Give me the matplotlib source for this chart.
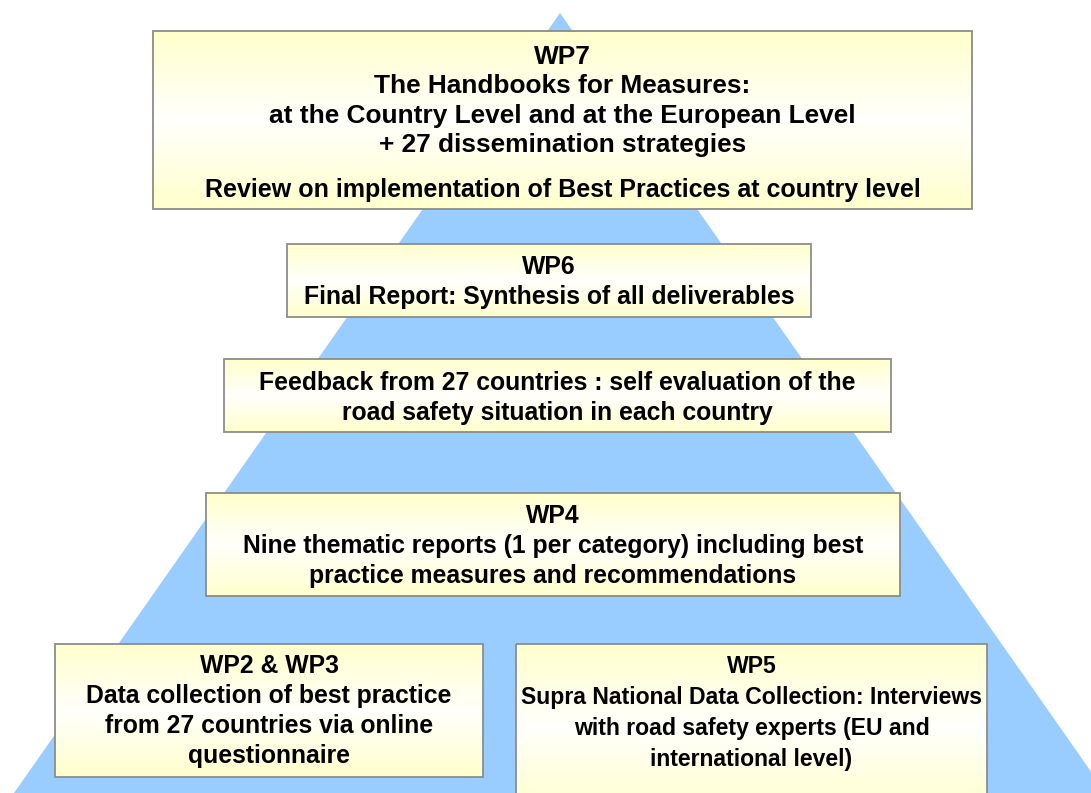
import numpy as np
import matplotlib.pyplot as plt
from matplotlib.patches import Polygon, Rectangle

plt.rcParams['font.family'] = ['Liberation Sans', 'DejaVu Sans']

# canvas in pixels
W, H = 1091, 793

# pyramid: apex and half-slope (x per y)
apex = (560, 13)
slope = 0.70

# boxes: left, top, right, bottom (pixels)
box_names = ['WP7', 'WP6', 'FB', 'WP4', 'WP23', 'WP5']
box_left = [153, 287, 224, 206, 55, 516]
box_top = [31, 244, 359, 493, 644, 644]
box_right = [972, 811, 891, 900, 483, 987]
box_bottom = [209, 317, 432, 596, 777, 810]

# text blocks: box index, centre y, font size, line spacing, text
text_box = [0, 0, 1, 2, 3, 4, 5]
text_y = [101, 190, 282, 398, 546, 711, 713]
text_size = [18.9, 18.0, 17.8, 17.8, 17.8, 17.8, 16.6]
text_ls = [1.27, 1.3, 1.3, 1.3, 1.3, 1.3, 1.45]
text_str = [
    'WP7\nThe Handbooks for Measures:\nat the Country Level and at the European Level\n+ 27 dissemination strategies',
    'Review on implementation of Best Practices at country level',
    'WP6\nFinal Report: Synthesis of all deliverables',
    'Feedback from 27 countries : self evaluation of the\nroad safety situation in each country',
    'WP4\nNine thematic reports (1 per category) including best\npractice measures and recommendations',
    'WP2 & WP3\nData collection of best practice\nfrom 27 countries via online\nquestionnaire',
    'WP5\nSupra National Data Collection: Interviews\nwith road safety experts (EU and\ninternational level)',
]

fig = plt.figure(figsize=(W / 100, H / 100), dpi=100)
ax = fig.add_axes([0, 0, 1, 1])
ax.set_xlim(0, W)
ax.set_ylim(H, 0)
ax.axis('off')

# pyramid
base_y = H + 50
dx = (base_y - apex[1]) * slope
ax.add_patch(Polygon([apex, (apex[0] - dx, base_y), (apex[0] + dx, base_y)],
                     closed=True, facecolor='#99ccff', edgecolor='none', zorder=1))

# yellow gradient (top yellow -> white -> bottom yellow)
t = np.linspace(0, 1, 200)
w = np.abs(t - 0.5) * 2
yellow = np.array([1.0, 1.0, 0.80])
white = np.array([1.0, 1.0, 0.99])
grad = (white[None, :] * (1 - w[:, None]) + yellow[None, :] * w[:, None])[:, None, :]

for l, tp, r, b in zip(box_left, box_top, box_right, box_bottom):
    ax.imshow(grad, extent=(l, r, b, tp), aspect='auto', zorder=2, interpolation='bilinear')
    ax.add_patch(Rectangle((l, tp), r - l, b - tp, facecolor='none',
                           edgecolor='#8c8c8c', linewidth=1.3, zorder=3))

for bi, y, fs, ls, s in zip(text_box, text_y, text_size, text_ls, text_str):
    cx = (box_left[bi] + box_right[bi]) / 2
    ax.text(cx, y, s, ha='center', va='center', fontsize=fs, fontweight='bold',
            linespacing=ls, color='black', zorder=4)

fig.savefig('out.png', dpi=100)
